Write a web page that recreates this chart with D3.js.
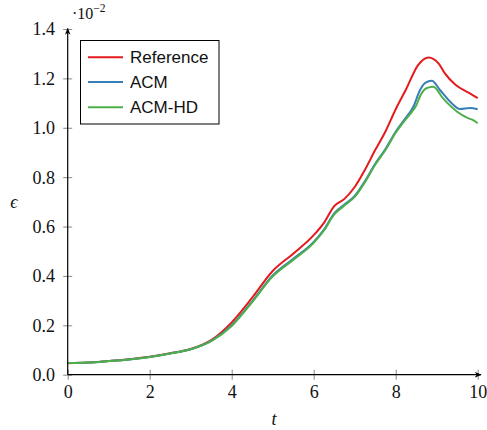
<!DOCTYPE html>
<html>
<head>
<meta charset="utf-8">
<script src="https://cdn.jsdelivr.net/npm/d3@7"></script>
<style>
  body { margin: 0; background: #fff; }
  svg { display: block; }
  .serif { font-family: "Liberation Serif"; }
  .sans { font-family: "Liberation Sans"; }
</style>
</head>
<body>
<svg id="chart" width="487" height="430"></svg>
<script>
// ---- Data (values in units of 1e-2) ----
const xTicks = [0, 2, 4, 6, 8, 10];
const yTicks = [0.0, 0.2, 0.4, 0.6, 0.8, 1.0, 1.2, 1.4];
const seriesNames = ["Reference", "ACM", "ACM-HD"];
const seriesColors = ["#e41a1c", "#377eb8", "#4daf4a"];

const refT = [0, 0.5, 1, 1.5, 2, 2.5, 3, 3.5, 4, 4.5, 5, 5.5, 6, 6.25, 6.5, 6.75, 7, 7.25, 7.5, 7.75, 8, 8.25, 8.55, 8.8, 9.05, 9.2, 9.45, 9.8, 10];
const refV = [0.046, 0.049, 0.055, 0.063, 0.073, 0.087, 0.104, 0.140, 0.212, 0.312, 0.420, 0.490, 0.565, 0.615, 0.683, 0.712, 0.760, 0.830, 0.910, 0.985, 1.075, 1.155, 1.255, 1.285, 1.260, 1.220, 1.175, 1.140, 1.120];

const acmT = [0, 0.5, 1, 1.5, 2, 2.5, 3, 3.5, 4, 4.5, 5, 5.5, 6, 6.25, 6.5, 6.75, 7, 7.25, 7.5, 7.75, 8, 8.2, 8.43, 8.6, 8.72, 8.88, 9.08, 9.33, 9.57, 9.81, 10];
const acmV = [0.047, 0.049, 0.055, 0.062, 0.072, 0.086, 0.103, 0.137, 0.200, 0.297, 0.402, 0.469, 0.538, 0.588, 0.653, 0.689, 0.724, 0.784, 0.854, 0.914, 0.984, 1.030, 1.085, 1.155, 1.182, 1.190, 1.153, 1.105, 1.076, 1.080, 1.075];

const hdT = [0, 0.5, 1, 1.5, 2, 2.5, 3, 3.5, 4, 4.5, 5, 5.5, 6, 6.25, 6.5, 6.75, 7, 7.25, 7.5, 7.75, 8, 8.2, 8.35, 8.5, 8.6, 8.75, 8.92, 9.15, 9.5, 9.75, 9.9, 10];
const hdV = [0.047, 0.049, 0.055, 0.062, 0.072, 0.086, 0.103, 0.136, 0.197, 0.294, 0.398, 0.465, 0.534, 0.584, 0.649, 0.685, 0.720, 0.780, 0.850, 0.910, 0.980, 1.025, 1.055, 1.090, 1.130, 1.160, 1.166, 1.120, 1.065, 1.040, 1.030, 1.018];

const seriesT = [refT, acmT, hdT];
const seriesV = [refV, acmV, hdV];

// ---- Layout ----
const svg = d3.select("#chart");
const x = d3.scaleLinear().domain([0, 10]).range([67.7, 477.7]);
const y = d3.scaleLinear().domain([0, 1.4]).range([374.7, 29.0]);

// arrow marker
svg.append("defs").append("marker")
  .attr("id", "arrow").attr("viewBox", "0 0 10 10")
  .attr("refX", 9).attr("refY", 5)
  .attr("markerWidth", 7).attr("markerHeight", 7)
  .attr("markerUnits", "userSpaceOnUse")
  .attr("orient", "auto")
  .append("path").attr("d", "M0,1 L10,5 L0,9 L3,5 Z").attr("fill", "#000");

// x axis ticks + labels
const xAxis = d3.axisBottom(x).tickValues(xTicks).tickSize(0).tickFormat(d3.format("d"));
const gx = svg.append("g").attr("transform", `translate(0,${y(0)})`).call(xAxis);
gx.attr("font-family", null).attr("font-size", null);
gx.select(".domain").remove();
gx.selectAll(".tick text")
  .attr("class", "serif").style("font-size", "18px").attr("fill", "#111")
  .attr("y", 0).attr("dy", 0).attr("transform", "translate(0,23.5)").attr("text-anchor", "middle");
gx.selectAll(".tick").append("line")
  .attr("y1", -5).attr("y2", 5).attr("stroke", "#888").attr("stroke-width", 1);

// y axis ticks + labels
const yAxis = d3.axisLeft(y).tickValues(yTicks).tickSize(0).tickFormat(d3.format(".1f"));
const gy = svg.append("g").attr("transform", `translate(${x(0)},0)`).call(yAxis);
gy.attr("font-family", null).attr("font-size", null);
gy.select(".domain").remove();
gy.selectAll(".tick text")
  .attr("class", "serif").style("font-size", "18px").attr("fill", "#111")
  .attr("x", -12.7).attr("dy", "0.33em").attr("text-anchor", "end");
gy.selectAll(".tick").append("line")
  .attr("x1", -4.5).attr("x2", 4.5).attr("stroke", "#888").attr("stroke-width", 1);

// series lines
const line = d3.line().x(d => x(d[0])).y(d => y(d[1])).curve(d3.curveMonotoneX);
seriesNames.forEach((name, i) => {
  const pts = seriesT[i].map((t, j) => [t, seriesV[i][j]]);
  svg.append("path").datum(pts)
    .attr("d", line)
    .attr("fill", "none")
    .attr("stroke", seriesColors[i])
    .attr("stroke-width", 2)
    .attr("stroke-linejoin", "round");
});

// axis lines with arrows
svg.append("line").attr("x1", x(0)).attr("x2", 481).attr("y1", y(0)).attr("y2", y(0))
  .attr("stroke", "#000").attr("stroke-width", 1.2).attr("marker-end", "url(#arrow)");
svg.append("line").attr("x1", x(0)).attr("x2", x(0)).attr("y1", y(0)).attr("y2", 28.5)
  .attr("stroke", "#000").attr("stroke-width", 1.2).attr("marker-end", "url(#arrow)");

// scale label
const sc = svg.append("text").attr("class", "serif").attr("x", 72).attr("y", 18.5)
  .style("font-size", "16px").attr("fill", "#111");
sc.append("tspan").text("·10");
sc.append("tspan").attr("dy", -6.5).style("font-size", "11.5px").text("−2");

// axis labels
svg.append("text").attr("class", "serif").attr("x", 274).attr("y", 424.5).attr("text-anchor", "middle")
  .style("font-style", "italic").style("font-size", "18px").attr("fill", "#111").text("t");
svg.append("text").attr("class", "serif").attr("x", 14).attr("y", 207.5).attr("text-anchor", "middle")
  .style("font-style", "italic").style("font-size", "18px").attr("fill", "#111").text("ϵ");

// legend
const lg = svg.append("g");
lg.append("rect").attr("x", 80.5).attr("y", 40.5).attr("width", 138.5).attr("height", 83.5)
  .attr("fill", "#fff").attr("stroke", "#000").attr("stroke-width", 1);
const rowsY = [57.3, 82, 107.3];
seriesNames.forEach((name, i) => {
  lg.append("line").attr("x1", 88).attr("x2", 123).attr("y1", rowsY[i]).attr("y2", rowsY[i])
    .attr("stroke", seriesColors[i]).attr("stroke-width", 2);
  lg.append("text").attr("class", "sans").attr("x", 130).attr("y", rowsY[i]).attr("dy", "0.36em")
    .style("font-size", "17px").attr("fill", "#111").text(name);
});
</script>
</body>
</html>
